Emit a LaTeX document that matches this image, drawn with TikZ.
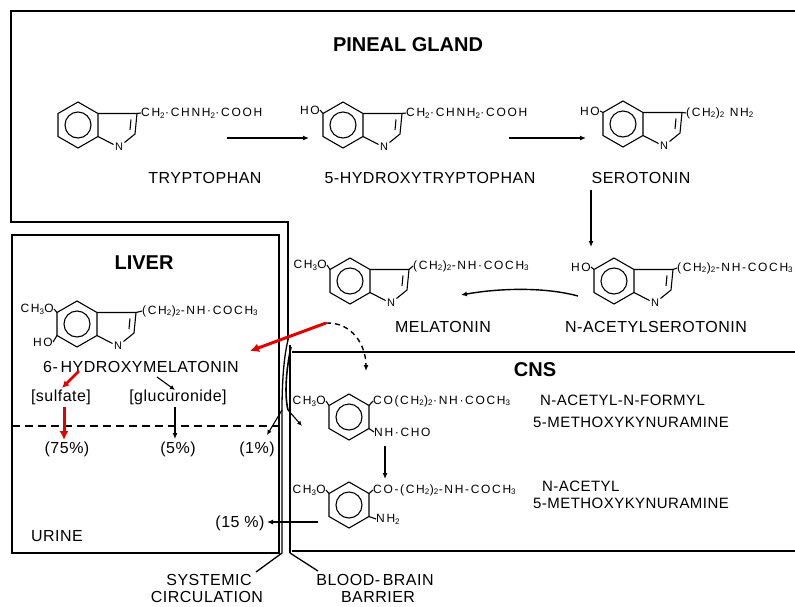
\documentclass[tikz,border=0pt]{standalone}
\usepackage{fontspec}
\setmainfont{Liberation Sans}
\newfontfamily\labfont{Liberation Sans}[LetterSpace=3]
\newfontfamily\chemfont{Liberation Sans}[LetterSpace=14]
\usetikzlibrary{arrows.meta}
\tikzset{
 title/.style={font=\fontsize{20}{22}\selectfont\bfseries, inner sep=0pt},
 lab/.style={font=\labfont\fontsize{16}{18}\selectfont, inner sep=0pt},
 knm/.style={font=\labfont\fontsize{15}{17}\selectfont, inner sep=0pt, anchor=west},
 chem/.style={font=\chemfont\fontsize{12}{13}\selectfont, inner sep=0pt},
 atom/.style={font=\chemfont\fontsize{11}{12}\selectfont, inner sep=0pt},
 bond/.style={line width=1.1pt},
 frame/.style={line width=1.3pt},
 arr/.style={line width=1.4pt, -{Latex[length=6pt,width=5pt]}},
 thinarr/.style={line width=1.1pt, -{Latex[length=5pt,width=4.5pt]}},
 redarr/.style={draw=red!90!black, line width=3pt, -{Latex[length=9pt,width=9pt]}},
 redsmall/.style={draw=red!90!black, line width=2.5pt, -{Latex[length=7pt,width=7pt]}},
}
\newcommand{\indolering}[3]{%
 \begin{scope}[shift={(#1,#2)}]
 \draw[bond] (0,-23) -- (20,-11.5) -- (20,11.5) -- (0,23) -- (-20,11.5) -- (-20,-11.5) -- cycle;
 \draw[bond] (0,0) circle (13);
 \draw[bond] (20,-11.5) -- (59,-11.5) -- (57,9) -- (46.5,17.5);
 \draw[bond] (53,-5.5) -- (52,5);
 \draw[bond] (35.5,19.5) -- (20,11.5);
 \node[atom] (#3N) at (41,22) {N};
 \end{scope}}
\newcommand{\benzring}[2]{%
 \begin{scope}[shift={(#1,#2)}]
 \draw[bond] (0,-23) -- (20,-11.5) -- (20,11.5) -- (0,23) -- (-20,11.5) -- (-20,-11.5) -- cycle;
 \draw[bond] (0,0) circle (13);
 \end{scope}}
\begin{document}
\begin{tikzpicture}[x=1pt,y=-1pt]
\fill[white] (0,0) rectangle (795,606);
\useasboundingbox (0,0) rectangle (795,606);

% ---------- frames ----------
\draw[frame] (795,11) -- (11,11) -- (11,222) -- (288,222) -- (288,340);
\draw[frame] (12,235) rectangle (279,553);
\draw[frame, dashed, dash pattern=on 8pt off 5pt] (12,426) -- (279,426);
\draw[frame] (292,352) -- (795,352);
\draw[frame] (292,551) -- (795,551);

% circulation / barrier
\draw[frame] (288,340) .. controls (283,360) and (282,390) .. (282,410) -- (282,553) -- (256,572);
\draw[line width=2.6pt] (290,345) -- (290,553);
\draw[frame] (290,553) -- (318,571);
\draw[line width=1.6pt] (291,347) .. controls (285,375) and (285,398) .. (288,410);

% ---------- titles ----------
\node[title] (pineal) at (408,45) {PINEAL GLAND};
\node[title] (liver) at (144,263) {LIVER};
\node[title] (cns) at (535,370) {CNS};

% ---------- tryptophan ----------
\indolering{78}{125}{trp}
\node[chem, anchor=west] (trpsub) at (141,113) {CH\textsubscript{2}·CHNH\textsubscript{2}·COOH};
\draw[bond] (137,113.5) -- (trpsub.west);
\node[lab] (trplab) at (205,178) {TRYPTOPHAN};

% ---------- 5-HTP ----------
\indolering{343}{125}{htp}
\node[chem, anchor=east] (htpho) at (320,110) {HO};
\draw[bond] (323,113.5) -- (htpho.east);
\node[chem, anchor=west] (htpsub) at (406,113) {CH\textsubscript{2}·CHNH\textsubscript{2}·COOH};
\draw[bond] (402,113.5) -- (htpsub.west);
\node[lab] (htplab) at (430,178) {5-HYDROXYTRYPTOPHAN};

% ---------- serotonin ----------
\indolering{623}{124}{ser}
\node[chem, anchor=east] (serho) at (600,111) {HO};
\draw[bond] (603,112.5) -- (serho.east);
\node[chem, anchor=west] (sersub) at (686,113) {(CH\textsubscript{2})\textsubscript{2} NH\textsubscript{2}};
\draw[bond] (682,112.5) -- (sersub.west);
\node[lab] (serlab) at (641,178) {SEROTONIN};

% ---------- N-acetylserotonin ----------
\indolering{614}{281}{nas}
\node[chem, anchor=east] (nasho) at (591,267) {HO};
\draw[bond] (594,269.5) -- (nasho.east);
\node[chem, anchor=west] (nassub) at (677,268) {(CH\textsubscript{2})\textsubscript{2}-NH-COCH\textsubscript{3}};
\draw[bond] (673,269.5) -- (nassub.west);
\node[lab] (naslab) at (656,327) {N-ACETYLSEROTONIN};

% ---------- melatonin ----------
\indolering{350}{281}{mel}
\node[chem, anchor=east] (melme) at (327,265) {CH\textsubscript{3}O};
\draw[bond] (330,269.5) -- (melme.east);
\node[chem, anchor=west] (melsub) at (413,266) {(CH\textsubscript{2})\textsubscript{2}-NH·COCH\textsubscript{3}};
\draw[bond] (409,269.5) -- (melsub.west);
\node[lab] (mellab) at (443,327) {MELATONIN};

% ---------- 6-hydroxymelatonin ----------
\indolering{77}{324}{hm}
\node[chem, anchor=east] (hmme) at (54,309) {CH\textsubscript{3}O};
\draw[bond] (57,312.5) -- (hmme.east);
\node[chem, anchor=east] (hmho) at (53,342) {HO};
\draw[bond] (57,335.5) -- (hmho.east);
\node[chem, anchor=west] (hmsub) at (142,311) {(CH\textsubscript{2})\textsubscript{2}-NH·COCH\textsubscript{3}};
\draw[bond] (136,312.5) -- (hmsub.west);
\node[lab] (hmlab) at (141,367) {6-\,HYDROXYMELATONIN};
\node[lab] (sulf) at (61,397) {[sulfate]};
\node[lab] (gluc) at (178,397) {[glucuronide]};
\node[lab] (p75) at (67,449) {(75\%)};
\node[lab] (p5) at (178,449) {(5\%)};
\node[lab] (p1) at (257,449) {(1\%)};
\node[lab] (p15) at (240,523) {(15 \%)};
\node[lab] (urine) at (57,536) {URINE};

% ---------- kynuramines ----------
\benzring{349}{417}
\node[chem, anchor=east] (k1me) at (326,401) {CH\textsubscript{3}O};
\draw[bond] (329,405.5) -- (k1me.east);
\node[chem, anchor=west] (k1sub) at (373,401) {CO(CH\textsubscript{2})\textsubscript{2}·NH·COCH\textsubscript{3}};
\draw[bond] (369,405.5) -- (k1sub.west);
\node[chem, anchor=west] (k1nh) at (374,432) {NH·CHO};
\draw[bond] (369,428.5) -- (k1nh.west);
\node[knm] (k1n1) at (540,400) {N-ACETYL-N-FORMYL};
\node[knm] (k1n2) at (533,422) {5-METHOXYKYNURAMINE};

\benzring{349}{505}
\node[chem, anchor=east] (k2me) at (326,490) {CH\textsubscript{3}O};
\draw[bond] (329,493.5) -- (k2me.east);
\node[chem, anchor=west] (k2sub) at (373,490) {CO-(CH\textsubscript{2})\textsubscript{2}-NH-COCH\textsubscript{3}};
\draw[bond] (369,493.5) -- (k2sub.west);
\node[chem, anchor=west] (k2nh) at (376,519) {NH\textsubscript{2}};
\draw[bond] (369,516.5) -- (k2nh.west);
\node[knm] (k2n1) at (542,486) {N-ACETYL};
\node[knm] (k2n2) at (533,503) {5-METHOXYKYNURAMINE};

% ---------- bottom labels ----------
\node[lab] (sys1) at (209,580) {SYSTEMIC};
\node[lab] (sys2) at (207,597) {CIRCULATION};
\node[lab] (bbb1) at (375,580) {BLOOD-\,BRAIN};
\node[lab] (bbb2) at (378,597) {BARRIER};

% ---------- arrow end points ----------
\coordinate (a1s) at (227,138); \coordinate (a1e) at (309,138);
\coordinate (a2s) at (509,138); \coordinate (a2e) at (586,138);
\coordinate (a3s) at (591,190); \coordinate (a3e) at (591,247);
\coordinate (a4s) at (578,296); \coordinate (a4e) at (461,295);
\coordinate (rs) at (326,323); \coordinate (re) at (250,351);
\coordinate (de) at (366,371);
\coordinate (g1s) at (157,377); \coordinate (g1e) at (175,390);
\coordinate (s1s) at (79,371); \coordinate (s1e) at (62,388);
\coordinate (s2s) at (64,407); \coordinate (s2e) at (64,440);
\coordinate (g2s) at (175,407); \coordinate (g2e) at (175,439);
\coordinate (u1s) at (282,410); \coordinate (u1e) at (267,435);
\coordinate (c1s) at (288,410); \coordinate (c1e) at (302,426);
\coordinate (k12s) at (385,446); \coordinate (k12e) at (385,479);
\coordinate (b15s) at (318,522); \coordinate (b15e) at (267,522);

\draw[arr] (a1s) -- (a1e);
\draw[arr] (a2s) -- (a2e);
\draw[arr] (a3s) -- (a3e);
\draw[arr] (a4s) .. controls (545,287) and (500,288) .. (a4e);
\draw[arr, dashed, dash pattern=on 5pt off 4pt] (rs) .. controls (352,322) and (366,345) .. (de);
\draw[thinarr] (g1s) -- (g1e);
\draw[arr] (g2s) -- (g2e);
\draw[thinarr] (u1s) -- (u1e);
\draw[thinarr] (c1s) -- (c1e);
\draw[arr] (k12s) -- (k12e);
\draw[arr] (b15s) -- (b15e);
\draw[redsmall] (s1s) -- (s1e);
\draw[redarr] (s2s) -- (s2e);
\draw[redarr] (rs) -- (re);
\end{tikzpicture}
\end{document}
